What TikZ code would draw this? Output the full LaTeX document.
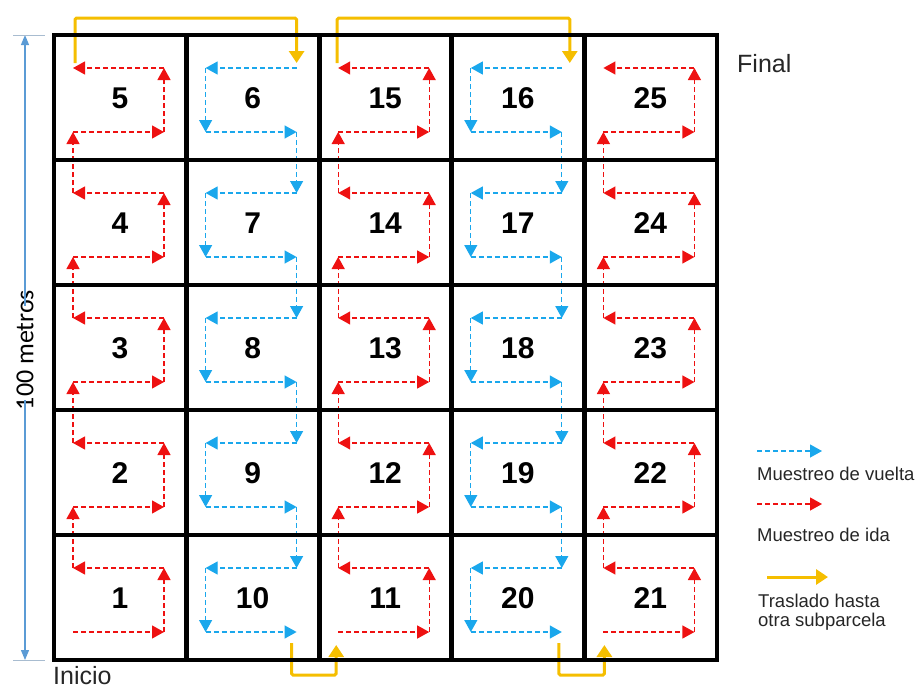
\documentclass[tikz,border=0pt]{standalone}
\usepackage{fontspec}
\setmainfont{Liberation Sans}
\newfontfamily\calibfont{Carlito}
\usetikzlibrary{arrows.meta,calc}
\definecolor{ida}{HTML}{EE1111}
\definecolor{vuelta}{HTML}{1AA7EC}
\definecolor{tras}{HTML}{F5BE00}
\definecolor{dimc}{HTML}{5B9BD5}
\definecolor{tickc}{HTML}{A8BCD0}
\begin{document}
\begin{tikzpicture}[x=1pt,y=-1pt,
  idaarr/.style={draw=ida, line width=1.2pt, dash pattern=on 5pt off 3pt,
    -{Triangle[length=12pt,width=13pt]}},
  vuarr/.style={draw=vuelta, line width=1.2pt, dash pattern=on 5pt off 3pt,
    -{Triangle[length=12pt,width=13pt]}},
  trasarr/.style={draw=tras, line width=3pt, rounded corners=1.5pt,
    -{Triangle[length=12pt,width=15pt]}},
  gridline/.style={draw=black, line width=4.8pt, line cap=rect},
  numlbl/.style={font=\bfseries\fontsize{30}{34}\selectfont, inner sep=0pt},
  biglbl/.style={font=\fontsize{25}{29}\selectfont, inner sep=0pt, text=black!85},
  leglbl/.style={font=\fontsize{18.5}{21}\selectfont, inner sep=0pt, anchor=west, text=black!85, align=left},
  dimarr/.style={draw=dimc, line width=1.2pt, -{Triangle[length=10pt,width=8pt]}}
]
\useasboundingbox (0,0) rectangle (918,691);

% cell corner coordinates and numbers
\foreach \n in {1,...,25}{
  \pgfmathtruncatemacro\c{int((\n-1)/5)}
  \pgfmathtruncatemacro\k{mod(\n-1,5)}
  \pgfmathtruncatemacro\r{mod(\c,2)==0 ? \k : 4-\k}
  \pgfmathsetmacro\L{54+132.6*\c}
  \pgfmathsetmacro\T{535-125*\r}
  \coordinate (c\n-bl) at (\L+19,\T+97);
  \coordinate (c\n-br) at (\L+110,\T+97);
  \coordinate (c\n-tr) at (\L+110,\T+33);
  \coordinate (c\n-tl) at (\L+19,\T+33);
  \node[numlbl] (n\n) at (\L+66,\T+63) {\n};
}

% sampling paths
\foreach \n in {1,...,25}{
  \pgfmathtruncatemacro\c{int((\n-1)/5)}
  \pgfmathtruncatemacro\k{mod(\n-1,5)}
  \pgfmathtruncatemacro\p{\n-1}
  \ifodd\c
    \ifnum\k>0 \draw[vuarr] (c\p-br) -- (c\n-tr); \fi
    \draw[vuarr] (c\n-tr) -- (c\n-tl);
    \draw[vuarr] (c\n-tl) -- (c\n-bl);
    \draw[vuarr] (c\n-bl) -- (c\n-br);
  \else
    \ifnum\k>0 \draw[idaarr] (c\p-tl) -- (c\n-bl); \fi
    \draw[idaarr] (c\n-bl) -- (c\n-br);
    \draw[idaarr] (c\n-br) -- (c\n-tr);
    \draw[idaarr] (c\n-tr) -- (c\n-tl);
  \fi
}

% transfer arrows
\coordinate (ytop) at (0,18);
\coordinate (ybot) at (0,675);
\coordinate (t1s) at ($(c5-tl)+(2,-5)$);
\coordinate (t1e) at ($(c6-tr)+(0,-5)$);
\coordinate (t2s) at ($(c10-br)+(-5,11)$);
\coordinate (t2e) at ($(c11-bl)+(-2,13)$);
\coordinate (t3s) at ($(c15-tl)+(-1,-5)$);
\coordinate (t3e) at ($(c16-tr)+(8,-5)$);
\coordinate (t4s) at ($(c20-br)+(-3,11)$);
\coordinate (t4e) at ($(c21-bl)+(1,13)$);
\draw[trasarr] (t1s) -- (t1s |- ytop) -- (t1e |- ytop) -- (t1e);
\draw[trasarr] (t2s) -- (t2s |- ybot) -- (t2e |- ybot) -- (t2e);
\draw[trasarr] (t3s) -- (t3s |- ytop) -- (t3e |- ytop) -- (t3e);
\draw[trasarr] (t4s) -- (t4s |- ybot) -- (t4e |- ybot) -- (t4e);

% grid
\foreach \i in {0,...,5}{
  \draw[gridline] (54+132.6*\i,35) -- (54+132.6*\i,660);
  \draw[gridline] (54,35+125*\i) -- (717,35+125*\i);
}

% dimension
\coordinate (dtop) at (25,35);
\coordinate (dbot) at (25,660);
\node[font=\calibfont\fontsize{26}{30}\selectfont, rotate=90, inner sep=0pt] (dimlbl) at (25,350) {100 metros};
\draw[dimarr] ([yshift=-16pt]dimlbl.east) -- (dtop);
\draw[dimarr] ([yshift=10pt]dimlbl.west) -- (dbot);
\draw[tickc, line width=0.8pt] ($(dtop)+(-12,0)$) -- ($(dtop)+(20,0)$);
\draw[tickc, line width=0.8pt] ($(dbot)+(-12,0)$) -- ($(dbot)+(20,0)$);

% labels
\node[biglbl, anchor=west] (final) at (737,64) {Final};
\node[biglbl, anchor=west] (inicio) at (53,676) {Inicio};

% legend
\coordinate (lv1) at (757,451); \coordinate (lv2) at (822,451);
\draw[vuarr] (lv1) -- (lv2);
\node[leglbl] (lvt) at (757,474) {Muestreo de vuelta};
\coordinate (li1) at (757,504); \coordinate (li2) at (822,504);
\draw[idaarr] (li1) -- (li2);
\node[leglbl] (lit) at (757,535) {Muestreo de ida};
\coordinate (lt1) at (767,577); \coordinate (lt2) at (828,577);
\draw[trasarr] (lt1) -- (lt2);
\node[leglbl] (ltt1) at (758,601) {Traslado hasta};
\node[leglbl] (ltt2) at (758,622) {otra subparcela};
\end{tikzpicture}
\end{document}
